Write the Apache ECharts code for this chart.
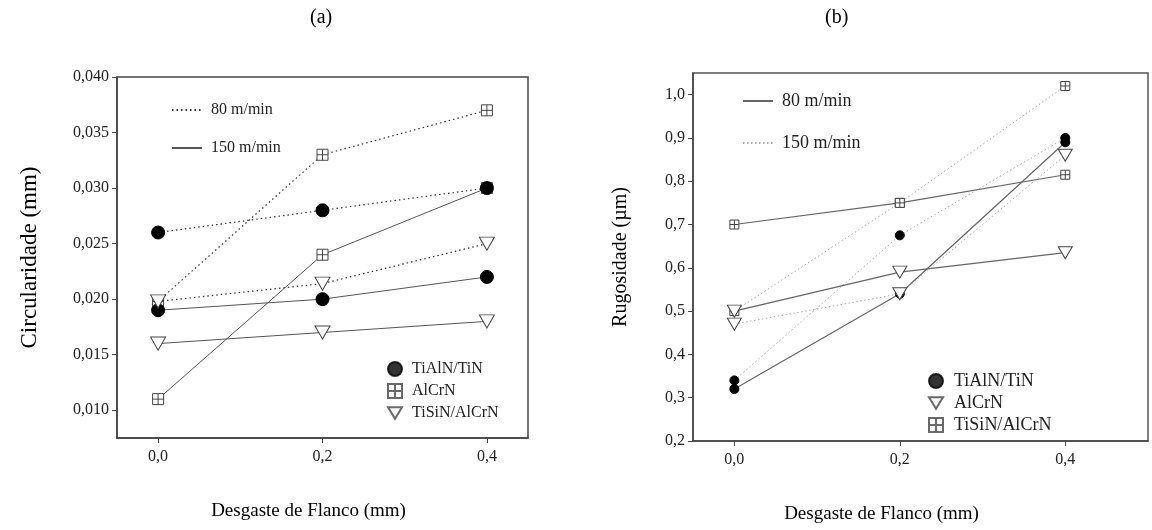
<!DOCTYPE html>
<html>
<head>
<meta charset="utf-8">
<script src="https://cdn.jsdelivr.net/npm/echarts@6.0.0/dist/echarts.min.js"></script>
<style>
  html, body { margin: 0; padding: 0; background: #fff; }
  #wrap { position: relative; width: 1152px; height: 530px; }
  #chartA { position: absolute; left: 0; top: 0; width: 576px; height: 530px; }
  #chartB { position: absolute; left: 576px; top: 0; width: 576px; height: 530px; }
</style>
</head>
<body>
<div id="wrap">
  <div id="chartA"></div>
  <div id="chartB"></div>
</div>
<script>
// eixo x comum: desgaste de flanco (mm)
const desgaste = [0, 0.2, 0.4];

// (a) Circularidade (mm)
const circYTicks = [0.010, 0.015, 0.020, 0.025, 0.030, 0.035, 0.040];
const circTiAlN80 = [0.026, 0.028, 0.030];
const circAlCrN80 = [0.0198, 0.033, 0.037];
const circTiSiN80 = [0.0198, 0.0214, 0.025];
const circTiAlN150 = [0.019, 0.020, 0.022];
const circAlCrN150 = [0.011, 0.024, 0.030];
const circTiSiN150 = [0.016, 0.017, 0.018];

// (b) Rugosidade (µm)
const rugYTicks = [0.2, 0.3, 0.4, 0.5, 0.6, 0.7, 0.8, 0.9, 1.0];
const rugTiAlN80 = [0.32, 0.54, 0.89];
const rugAlCrN80 = [0.50, 0.59, 0.635];
const rugTiSiN80 = [0.70, 0.75, 0.815];
const rugTiAlN150 = [0.34, 0.675, 0.90];
const rugAlCrN150 = [0.47, 0.54, 0.86];
const rugTiSiN150 = [0.50, 0.75, 1.02];

const FONT = '"Liberation Serif", "DejaVu Serif", serif';
const SQUARE = 'path://M0,0H10V10H0Z M5,0V10 M0,5H10';
const TRI = 'path://M0,0L12,0L6,10Z';

function pts(ys) {
    return ys.map((y, i) => [desgaste[i], y]);
}

function comma(v, d) {
    return v.toFixed(d).replace('.', ',');
}

// estilo das marcas por revestimento
function markStyle(kind, big) {
    if (kind === 'circle') {
        return { symbol: 'circle', symbolSize: big ? 13 : 9, itemStyle: { color: '#000', borderColor: '#000', borderWidth: 1 }, z: 5 };
    }
    if (kind === 'square') {
        return { symbol: SQUARE, symbolSize: big ? 11 : 9, itemStyle: { color: '#fff', borderColor: '#444', borderWidth: 1 }, z: 3 };
    }
    return { symbol: TRI, symbolSize: big ? [15, 13] : [14, 12], itemStyle: { color: '#fff', borderColor: '#444', borderWidth: 1 }, z: 6 };
}

function lineSeries(name, ys, kind, big, lineStyle) {
    return Object.assign({
        name: name,
        type: 'line',
        data: pts(ys),
        showSymbol: true,
        lineStyle: lineStyle,
        emphasis: { disabled: true }
    }, markStyle(kind, big));
}

function dummyLine(name, lineStyle) {
    return { name: name, type: 'line', data: [], symbol: 'none', lineStyle: lineStyle, itemStyle: { color: lineStyle.color } };
}

function dummyMark(name, kind, big) {
    return Object.assign({ name: name, type: 'scatter', data: [] }, markStyle(kind, big));
}

function xAxisCfg(max, nameShift, tickSize) {
    return {
        type: 'value',
        min: -0.05,
        max: max,
        name: 'Desgaste de Flanco (mm)',
        nameLocation: 'middle',
        nameGap: 64,
        nameTextStyle: { fontFamily: FONT, fontSize: 19, color: '#000', padding: nameShift },
        axisLine: { show: true, onZero: false, lineStyle: { color: '#444', width: 1.5 } },
        axisTick: { show: true, customValues: desgaste, length: 5, lineStyle: { color: '#444' } },
        axisLabel: { customValues: desgaste, fontFamily: FONT, fontSize: tickSize, color: '#222', margin: 11, formatter: v => comma(v, 1) },
        splitLine: { show: false }
    };
}

function yAxisCfg(min, max, ticks, dec, name, nameGap, nameSize, tickSize) {
    return {
        type: 'value',
        min: min,
        max: max,
        name: name,
        nameLocation: 'middle',
        nameGap: nameGap,
        nameTextStyle: { fontFamily: FONT, fontSize: nameSize, color: '#000' },
        axisLine: { show: true, onZero: false, lineStyle: { color: '#444', width: 1.5 } },
        axisTick: { show: true, customValues: ticks, length: 5, lineStyle: { color: '#444' } },
        axisLabel: { customValues: ticks, fontFamily: FONT, fontSize: tickSize, color: '#222', margin: 8, formatter: v => comma(v, dec) },
        splitLine: { show: false }
    };
}

const hideSymbol = { color: 'transparent', borderColor: 'transparent', borderWidth: 0, opacity: 0 };

// ---------- (a) ----------
const dotA = { type: [1.5, 3], color: '#333', width: 1.2 };
const solA = { type: 'solid', color: '#555', width: 1 };

const chartA = echarts.init(document.getElementById('chartA'));
chartA.setOption({
    animation: false,
    title: { text: '(a)', left: 305, top: 3, textStyle: { fontFamily: FONT, fontSize: 20, fontWeight: 'normal', color: '#000' } },
    grid: { left: 117, top: 77, width: 411, height: 361, show: true, borderColor: '#444', borderWidth: 1.5 },
    legend: [
        {
            data: ['80 m/min', '150 m/min'], orient: 'vertical', left: 166, top: 97,
            itemWidth: 30, itemHeight: 14, itemGap: 22, selectedMode: false,
            itemStyle: hideSymbol,
            textStyle: { fontFamily: FONT, fontSize: 16, color: '#222', padding: [0, 0, 0, 4] }
        },
        {
            data: ['TiAlN/TiN', 'AlCrN', 'TiSiN/AlCrN'], orient: 'vertical', left: 382, top: 356,
            itemWidth: 14, itemHeight: 14, itemGap: 6, selectedMode: false,
            textStyle: { fontFamily: FONT, fontSize: 16, color: '#222', padding: [0, 0, 0, 5] }
        }
    ],
    xAxis: xAxisCfg(0.45, [0, 28, 0, 0], 16),
    yAxis: yAxisCfg(0.0075, 0.04, circYTicks, 3, 'Circularidade (mm)', 76, 23, 16),
    series: [
        lineSeries('a-AlCrN-80', circAlCrN80, 'square', true, dotA),
        lineSeries('a-AlCrN-150', circAlCrN150, 'square', true, solA),
        lineSeries('a-TiSiN-80', circTiSiN80, 'tri', true, dotA),
        lineSeries('a-TiSiN-150', circTiSiN150, 'tri', true, solA),
        lineSeries('a-TiAlN-80', circTiAlN80, 'circle', true, dotA),
        lineSeries('a-TiAlN-150', circTiAlN150, 'circle', true, solA),
        dummyLine('80 m/min', dotA),
        dummyLine('150 m/min', solA),
        dummyMark('TiAlN/TiN', 'circle', true),
        dummyMark('AlCrN', 'square', true),
        dummyMark('TiSiN/AlCrN', 'tri', true)
    ]
});

// ---------- (b) ----------
const solB = { type: 'solid', color: '#666', width: 1.2 };
const dotB = { type: [1.5, 2.5], color: '#aaa', width: 1 };

const chartB = echarts.init(document.getElementById('chartB'));
chartB.setOption({
    animation: false,
    title: { text: '(b)', left: 244, top: 3, textStyle: { fontFamily: FONT, fontSize: 20, fontWeight: 'normal', color: '#000' } },
    grid: { left: 117, top: 73, width: 455, height: 368, show: true, borderColor: '#555', borderWidth: 1.5 },
    legend: [
        {
            data: ['80 m/min', '150 m/min'], orient: 'vertical', left: 161, top: 87,
            itemWidth: 30, itemHeight: 14, itemGap: 24, selectedMode: false,
            itemStyle: hideSymbol,
            textStyle: { fontFamily: FONT, fontSize: 18, color: '#222', padding: [0, 0, 0, 4] }
        },
        {
            data: ['TiAlN/TiN', 'AlCrN', 'TiSiN/AlCrN'], orient: 'vertical', left: 347, top: 367,
            itemWidth: 14, itemHeight: 14, itemGap: 4, selectedMode: false,
            textStyle: { fontFamily: FONT, fontSize: 18, color: '#222', padding: [0, 0, 0, 6] }
        }
    ],
    xAxis: xAxisCfg(0.5, [0, 78, 0, 0], 16),
    yAxis: yAxisCfg(0.2, 1.05, rugYTicks, 1, 'Rugosidade (µm)', 62, 20, 16),
    series: [
        lineSeries('b-TiSiN-80', rugTiSiN80, 'square', false, solB),
        lineSeries('b-TiSiN-150', rugTiSiN150, 'square', false, dotB),
        lineSeries('b-TiAlN-80', rugTiAlN80, 'circle', false, solB),
        lineSeries('b-TiAlN-150', rugTiAlN150, 'circle', false, dotB),
        lineSeries('b-AlCrN-80', rugAlCrN80, 'tri', false, solB),
        lineSeries('b-AlCrN-150', rugAlCrN150, 'tri', false, dotB),
        dummyLine('80 m/min', solB),
        dummyLine('150 m/min', dotB),
        dummyMark('TiAlN/TiN', 'circle', false),
        dummyMark('AlCrN', 'tri', false),
        dummyMark('TiSiN/AlCrN', 'square', false)
    ]
});
</script>
</body>
</html>
